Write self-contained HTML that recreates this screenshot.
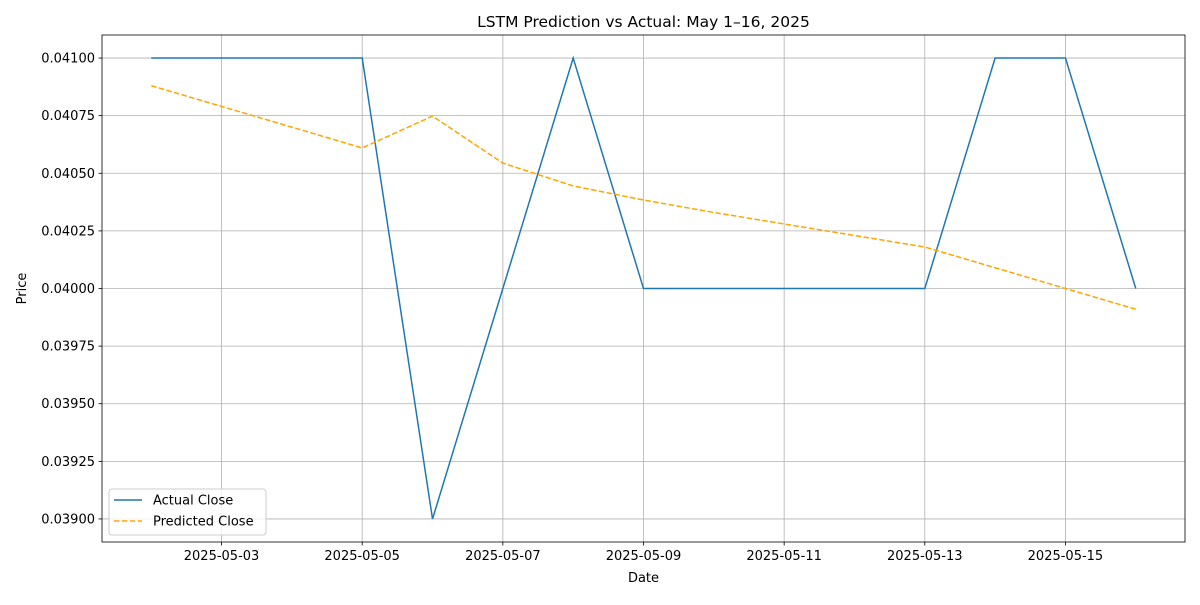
<!DOCTYPE html>
<html><head><meta charset="utf-8"><style>
body{margin:0;background:#fff;font-family:"Liberation Sans","DejaVu Sans",sans-serif}
svg text{font-family:"DejaVu Sans","Liberation Sans",sans-serif;fill:#000}
</style></head><body>
<svg id="chart" width="1200" height="600" xmlns="http://www.w3.org/2000/svg"></svg>
<script>
const dates=["2025-05-02","2025-05-03","2025-05-04","2025-05-05","2025-05-06","2025-05-07","2025-05-08","2025-05-09","2025-05-10","2025-05-11","2025-05-12","2025-05-13","2025-05-14","2025-05-15","2025-05-16"];
const actual=[0.041,0.041,0.041,0.041,0.039,0.040,0.041,0.040,0.040,0.040,0.040,0.040,0.041,0.041,0.040];
const predicted=[0.04088,0.04079,0.04070,0.04061,0.040748,0.040544,0.040445,0.040384,0.04033,0.04028,0.04023,0.04018,0.04009,0.04000,0.03991];
const yTicks=[0.039,0.03925,0.0395,0.03975,0.04,0.04025,0.0405,0.04075,0.041];
const xTickLabels=["2025-05-03","2025-05-05","2025-05-07","2025-05-09","2025-05-11","2025-05-13","2025-05-15"];

const L=102,R=1185,T=35,B=542;
const dayIdx=s=>(Date.parse(s)-Date.parse("2025-05-02"))/86400000;
const x0=-0.7,x1=14.7;
const yMin=Math.min(...actual,...predicted),yMax=Math.max(...actual,...predicted);
const pad=(yMax-yMin)*0.05,y0=yMin-pad,y1=yMax+pad;
const X=i=>L+(i-x0)/(x1-x0)*(R-L);
const Y=v=>B-(v-y0)/(y1-y0)*(B-T);
const svg=document.getElementById('chart');
const NS="http://www.w3.org/2000/svg";
function mk(tag,attrs,parent){const e=document.createElementNS(NS,tag);for(const k in attrs)e.setAttribute(k,attrs[k]);(parent||svg).appendChild(e);return e;}

const grid=mk('g',{});


xTickLabels.forEach(d=>{const x=X(dayIdx(d));
 const l=mk('line',{x1:x,x2:x,y1:T,y2:B,stroke:'#b0b0b0','stroke-width':0.8},grid);
 
 mk('line',{x1:x,x2:x,y1:B,y2:B+3.5,stroke:'#000','stroke-width':0.8});
 const t=mk('text',{x:x,y:B+18,'text-anchor':'middle','font-size':13});t.textContent=d;
 
});
yTicks.forEach(v=>{const y=Y(v);
 const l=mk('line',{x1:L,x2:R,y1:y,y2:y,stroke:'#b0b0b0','stroke-width':0.8},grid);
 
 mk('line',{x1:L-3.5,x2:L,y1:y,y2:y,stroke:'#000','stroke-width':0.8});
 const t=mk('text',{x:L-7,y:y+4.5,'text-anchor':'end','font-size':13});t.textContent=v.toFixed(5);
 
});
function line(vals,color,dash,name){
 const p=mk('polyline',{points:vals.map((v,i)=>X(dayIdx(dates[i]))+','+Y(v)).join(' '),fill:'none',stroke:color,'stroke-width':1.5,'stroke-dasharray':dash||'none'});
 
}
line(actual,'#1f77b4',null,'actual-close-line');
line(predicted,'#ffa500','5.5,2.4','predicted-close-line');
const fr=mk('rect',{x:L,y:T,width:R-L,height:B-T,fill:'none',stroke:'#000','stroke-width':0.8});

const title=mk('text',{x:(L+R)/2,y:27,'text-anchor':'middle','font-size':15.5});title.textContent='LSTM Prediction vs Actual: May 1–16, 2025';

const xt=mk('text',{x:(L+R)/2,y:582,'text-anchor':'middle','font-size':13});xt.textContent='Date';

const yt=mk('text',{x:0,y:0,'text-anchor':'middle','font-size':13,transform:'translate(26,'+((T+B)/2)+') rotate(-90)'});yt.textContent='Price';

const lg=mk('g',{});

mk('rect',{x:109,y:489,width:157,height:46,rx:3,fill:'#fff','fill-opacity':0.8,stroke:'#ccc'},lg);
[['Actual Close','#1f77b4','none',500],['Predicted Close','#ffa500','5.5,2.4',521]].forEach(([n,c,d,y])=>{
 mk('line',{x1:114,x2:142,y1:y,y2:y,stroke:c,'stroke-width':1.5,'stroke-dasharray':d},lg);
 const t=mk('text',{x:153,y:y+4.5,'font-size':13},lg);t.textContent=n;
 
});
</script>
</body></html>
